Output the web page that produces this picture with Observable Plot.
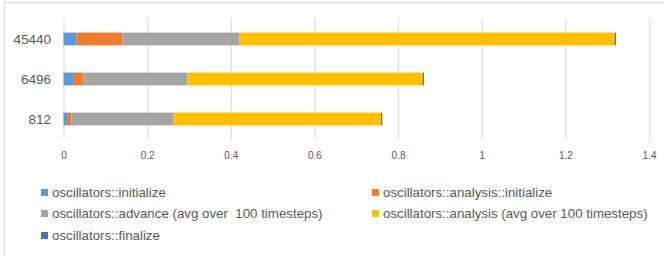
<!DOCTYPE html>
<html>
<head>
<meta charset="utf-8">
<script src="https://cdn.jsdelivr.net/npm/d3@7"></script>
<script src="https://cdn.jsdelivr.net/npm/@observablehq/plot@0.6"></script>
<style>
  html, body { margin: 0; padding: 0; background: #fff; }
  #wrap { position: relative; width: 664px; height: 257px; overflow: hidden; font-family: "Liberation Sans", Arial, sans-serif; }
  #frame { position: absolute; left: 4px; top: 2px; width: 680px; height: 253px; border-top: 1px solid #d9d9d9; border-left: 1px solid #d9d9d9; }
  #chart { position: absolute; left: 0; top: 0; }
  .leg { position: absolute; display: flex; align-items: center; font-size: 13.3px; color: #595959; white-space: nowrap; }
  .leg span.sw { width: 7px; height: 7px; margin-right: 4px; display: inline-block; }
</style>
</head>
<body>
<div id="wrap"><div id="frame"></div><div id="chart"></div><div id="legend"></div></div>
<script>
const sizes = ["45440", "6496", "812"];
const seriesNames = [
  "oscillators::initialize",
  "oscillators::analysis::initialize",
  "oscillators::advance (avg over  100 timesteps)",
  "oscillators::analysis (avg over 100 timesteps)",
  "oscillators::finalize"
];
const colors = ["#5B9BD5", "#ED7D31", "#A5A5A5", "#FFC000", "#4472C4"];
const initialize = [0.031, 0.025, 0.0105];
const analysisInitialize = [0.110, 0.023, 0.0087];
const advance = [0.280, 0.248, 0.244];
const analysis = [0.897, 0.563, 0.496];
const finalize = [0.003, 0.003, 0.003];
const xTicks = [0, 0.2, 0.4, 0.6, 0.8, 1, 1.2, 1.4];

const seriesValues = [initialize, analysisInitialize, advance, analysis, finalize];
const table = [];
seriesNames.forEach((name, i) => {
  sizes.forEach((s, j) => table.push({series: name, size: s, value: seriesValues[i][j]}));
});

const chart = Plot.plot({
  width: 664,
  height: 165,
  marginLeft: 63.5,
  marginRight: 15,
  marginTop: 18,
  marginBottom: 25,
  style: {fontFamily: "Liberation Sans, Arial, sans-serif", color: "#595959", background: "transparent"},
  x: {domain: [0, 1.4], ticks: xTicks, tickFormat: d => String(d), tickSize: 0, tickPadding: 11, label: null, fontSize: 10},
  y: {domain: sizes, padding: 0, tickSize: 0, tickPadding: 13, label: null},
  color: {domain: seriesNames, range: colors},
  marks: [
    Plot.ruleX(xTicks, {stroke: "#d9d9d9", strokeWidth: 1}),
    Plot.barX(table, {x: "value", y: "size", fill: "series", insetTop: 13.6, insetBottom: 13.6}),
    Plot.axisX({ticks: xTicks, tickFormat: d => String(d), tickSize: 0, tickPadding: 11, fontSize: 10, label: null}),
    Plot.axisY({tickSize: 0, tickPadding: 13, fontSize: 13.5, label: null})
  ]
});
document.getElementById("chart").appendChild(chart);

const legendPos = [[41, 192.5], [372, 192.5], [41, 213.5], [372, 213.5], [41, 235]];
const legend = document.getElementById("legend");
seriesNames.forEach((name, i) => {
  const d = document.createElement("div");
  d.className = "leg";
  d.style.left = legendPos[i][0] + "px";
  d.style.top = (legendPos[i][1] - 9) + "px";
  d.style.height = "18px";
  const sw = document.createElement("span");
  sw.className = "sw";
  sw.style.background = colors[i];
  d.appendChild(sw);
  const t = document.createElement("span");
  t.textContent = name;
  t.style.whiteSpace = "pre";
  d.appendChild(t);
  legend.appendChild(d);
});
</script>
</body>
</html>
